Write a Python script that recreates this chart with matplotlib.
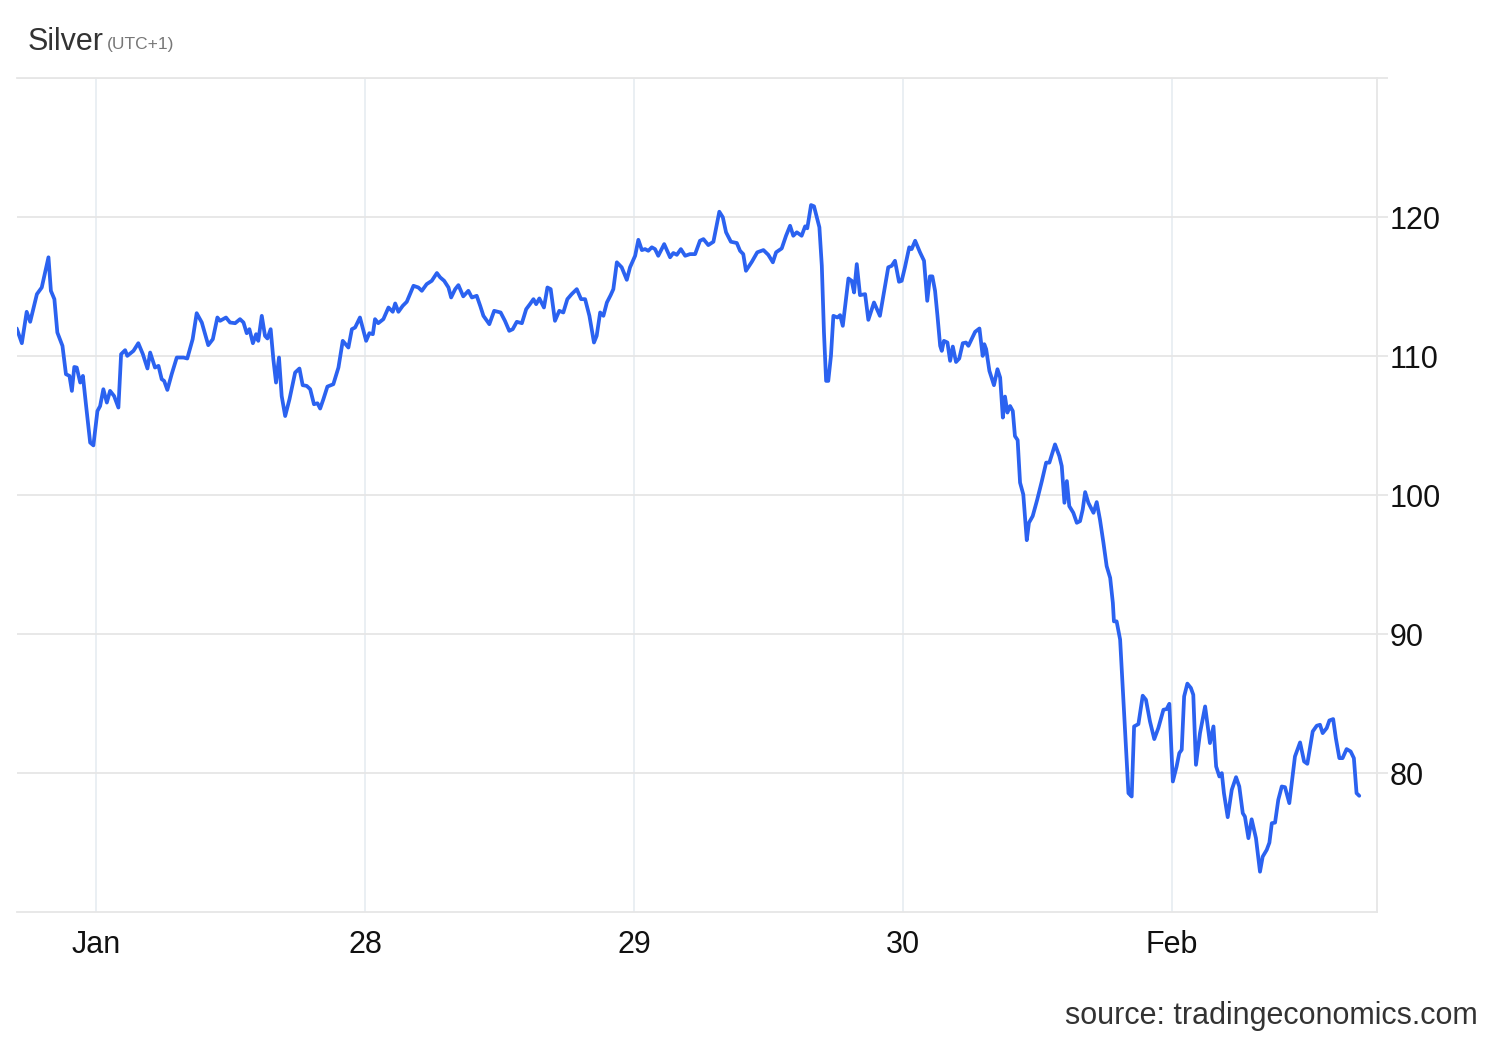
import matplotlib
matplotlib.use('Agg')
import matplotlib.pyplot as plt
import numpy as np

# time in trading days from the "Jan" tick (Jan 27), silver price in USD
days = [
    -0.295, -0.276, -0.258, -0.245, -0.220, -0.202, -0.177, -0.168, -0.155, -0.144,
    -0.125, -0.112, -0.099, -0.090, -0.081, -0.072, -0.059, -0.049, -0.037, -0.022,
    -0.010, 0.005, 0.015, 0.027, 0.040, 0.052, 0.067, 0.083, 0.093, 0.108,
    0.116, 0.139, 0.157, 0.174, 0.191, 0.201, 0.219, 0.232, 0.244, 0.253,
    0.265, 0.281, 0.300, 0.325, 0.339, 0.359, 0.374, 0.393, 0.417, 0.434,
    0.451, 0.461, 0.483, 0.498, 0.517, 0.535, 0.548, 0.560, 0.570, 0.583,
    0.595, 0.603, 0.616, 0.628, 0.637, 0.649, 0.659, 0.669, 0.680, 0.690,
    0.703, 0.719, 0.740, 0.756, 0.768, 0.783, 0.796, 0.810, 0.823, 0.833,
    0.845, 0.860, 0.882, 0.901, 0.917, 0.938, 0.951, 0.963, 0.981, 1.004,
    1.016, 1.029, 1.037, 1.049, 1.068, 1.087, 1.103, 1.112, 1.124, 1.140,
    1.155, 1.180, 1.198, 1.211, 1.229, 1.248, 1.267, 1.279, 1.294, 1.310,
    1.320, 1.335, 1.347, 1.365, 1.384, 1.397, 1.415, 1.428, 1.440, 1.462,
    1.480, 1.504, 1.520, 1.536, 1.549, 1.564, 1.583, 1.599, 1.613, 1.626,
    1.636, 1.648, 1.665, 1.678, 1.690, 1.706, 1.722, 1.737, 1.752, 1.768,
    1.787, 1.803, 1.818, 1.834, 1.851, 1.861, 1.874, 1.886, 1.899, 1.913,
    1.923, 1.936, 1.954, 1.973, 1.985, 2.004, 2.016, 2.029, 2.041, 2.053,
    2.066, 2.078, 2.090, 2.112, 2.134, 2.146, 2.159, 2.174, 2.190, 2.208,
    2.227, 2.245, 2.258, 2.276, 2.295, 2.317, 2.330, 2.342, 2.360, 2.382,
    2.394, 2.406, 2.416, 2.438, 2.458, 2.481, 2.499, 2.516, 2.528, 2.549,
    2.565, 2.580, 2.592, 2.605, 2.623, 2.636, 2.644, 2.658, 2.669, 2.689,
    2.698, 2.706, 2.714, 2.722, 2.732, 2.741, 2.756, 2.766, 2.776, 2.797,
    2.809, 2.818, 2.828, 2.840, 2.859, 2.871, 2.892, 2.914, 2.933, 2.945,
    2.958, 2.970, 2.985, 2.995, 3.007, 3.023, 3.032, 3.045, 3.063, 3.078,
    3.090, 3.100, 3.109, 3.119, 3.128, 3.138, 3.144, 3.152, 3.165, 3.175,
    3.185, 3.197, 3.209, 3.222, 3.234, 3.243, 3.255, 3.268, 3.284, 3.296,
    3.302, 3.309, 3.321, 3.338, 3.351, 3.361, 3.371, 3.379, 3.388, 3.398,
    3.408, 3.416, 3.426, 3.435, 3.447, 3.460, 3.468, 3.482, 3.499, 3.516,
    3.532, 3.544, 3.565, 3.581, 3.590, 3.600, 3.609, 3.618, 3.633, 3.646,
    3.658, 3.668, 3.677, 3.689, 3.708, 3.720, 3.732, 3.745, 3.757, 3.770,
    3.780, 3.784, 3.794, 3.807, 3.819, 3.838, 3.850, 3.859, 3.875, 3.891,
    3.903, 3.918, 3.934, 3.949, 3.968, 3.980, 3.990, 4.003, 4.017, 4.027,
    4.036, 4.045, 4.057, 4.070, 4.079, 4.089, 4.104, 4.123, 4.141, 4.154,
    4.164, 4.176, 4.185, 4.193, 4.207, 4.222, 4.238, 4.250, 4.263, 4.271,
    4.284, 4.296, 4.312, 4.327, 4.337, 4.352, 4.362, 4.371, 4.383, 4.395,
    4.408, 4.420, 4.436, 4.457, 4.476, 4.491, 4.503, 4.523, 4.538, 4.550,
    4.560, 4.575, 4.585, 4.599, 4.609, 4.622, 4.634, 4.649, 4.664, 4.676,
    4.686, 4.696,
]
price = [
    111.98, 110.92, 113.18, 112.46, 114.45, 114.93, 117.10, 114.69, 114.09, 111.69,
    110.73, 108.69, 108.57, 107.49, 109.21, 109.17, 108.09, 108.57, 106.40, 103.77,
    103.57, 106.04, 106.40, 107.61, 106.65, 107.49, 107.12, 106.29, 110.13, 110.42,
    110.01, 110.37, 110.92, 110.13, 109.10, 110.25, 109.17, 109.29, 108.33, 108.21,
    107.56, 108.69, 109.89, 109.89, 109.82, 111.21, 113.08, 112.41, 110.78, 111.21,
    112.77, 112.53, 112.77, 112.41, 112.36, 112.65, 112.41, 111.64, 111.93, 110.92,
    111.57, 111.09, 112.89, 111.45, 111.26, 111.93, 109.77, 108.09, 109.89, 107.12,
    105.68, 106.89, 108.81, 109.10, 107.90, 107.85, 107.61, 106.53, 106.60, 106.22,
    106.89, 107.80, 107.97, 109.17, 111.09, 110.61, 111.93, 112.05, 112.77, 111.09,
    111.64, 111.57, 112.65, 112.36, 112.65, 113.49, 113.18, 113.78, 113.18, 113.61,
    113.90, 115.05, 114.93, 114.69, 115.17, 115.41, 115.97, 115.66, 115.41, 114.93,
    114.21, 114.81, 115.10, 114.29, 114.69, 114.21, 114.33, 113.61, 112.89, 112.29,
    113.25, 113.13, 112.53, 111.81, 111.93, 112.46, 112.36, 113.37, 113.73, 114.09,
    113.73, 114.14, 113.49, 114.93, 114.81, 112.53, 113.25, 113.13, 114.09, 114.45,
    114.81, 114.09, 114.09, 112.89, 110.97, 111.45, 113.13, 112.89, 113.85, 114.38,
    114.81, 116.74, 116.38, 115.48, 116.38, 117.21, 118.36, 117.62, 117.69, 117.57,
    117.82, 117.69, 117.21, 118.05, 117.10, 117.41, 117.28, 117.69, 117.21, 117.33,
    117.33, 118.29, 118.41, 117.98, 118.22, 120.38, 119.98, 118.90, 118.22, 118.13,
    117.57, 117.33, 116.13, 116.78, 117.46, 117.62, 117.28, 116.74, 117.46, 117.74,
    118.65, 119.37, 118.65, 118.90, 118.65, 119.33, 119.19, 120.86, 120.77, 119.26,
    116.49, 111.69, 108.21, 108.21, 110.01, 112.89, 112.77, 112.94, 112.17, 115.58,
    115.41, 114.57, 116.61, 114.38, 114.45, 112.60, 113.85, 112.89, 115.05, 116.38,
    116.49, 116.85, 115.34, 115.41, 116.38, 117.82, 117.69, 118.29, 117.46, 116.85,
    113.97, 115.73, 115.73, 114.69, 112.89, 110.73, 110.37, 111.09, 110.97, 109.65,
    110.68, 109.57, 109.82, 110.92, 110.97, 110.73, 111.21, 111.74, 111.98, 110.01,
    110.85, 110.49, 108.93, 107.90, 109.05, 108.45, 105.57, 107.08, 105.93, 106.40,
    106.04, 104.24, 103.95, 100.89, 100.04, 96.75, 98.00, 98.48, 99.68, 101.00,
    102.33, 102.33, 103.64, 102.80, 102.08, 99.44, 101.00, 99.20, 98.72, 98.00,
    98.12, 98.96, 100.21, 99.44, 98.72, 99.49, 98.24, 96.56, 94.88, 94.04,
    92.24, 90.91, 90.91, 89.60, 85.27, 78.55, 78.31, 83.35, 83.52, 85.56,
    85.27, 83.71, 82.44, 83.23, 84.55, 84.60, 84.98, 79.39, 80.47, 81.43,
    81.67, 85.51, 86.43, 86.12, 85.63, 80.59, 82.87, 84.79, 82.15, 83.35,
    80.47, 79.75, 79.99, 78.55, 76.82, 78.79, 79.70, 79.03, 77.11, 76.86,
    75.31, 76.67, 75.31, 72.90, 73.98, 74.47, 74.99, 76.39, 76.43, 78.07,
    79.03, 78.98, 77.83, 81.19, 82.20, 80.83, 80.66, 82.99, 83.40, 83.47,
    82.87, 83.23, 83.78, 83.88, 82.51, 81.07, 81.07, 81.72, 81.55, 81.07,
    78.55, 78.36,
]

x_ticks = [0, 1, 2, 3, 4]
x_labels = ['Jan', '28', '29', '30', 'Feb']
y_ticks = [80, 90, 100, 110, 120]

plt.rcParams['font.family'] = ['Liberation Sans', 'DejaVu Sans']

fig = plt.figure(figsize=(15, 10.4), dpi=100)
ax = fig.add_axes([17 / 1500, 1 - 912 / 1040, 1360 / 1500, 834 / 1040])

ax.plot(days, price, color='#2b62f0', lw=2.7, solid_joinstyle='round',
        solid_capstyle='round')

ax.set_xlim(-0.294, 4.762)
ax.set_ylim(70, 130)

ax.set_xticks(x_ticks)
ax.set_xticklabels(x_labels)
ax.set_yticks(y_ticks + [130])
ax.set_yticklabels([str(v) for v in y_ticks] + [''])
ax.yaxis.tick_right()

ax.grid(axis='y', color='#e6e6e6', lw=1.3)
ax.grid(axis='x', color='#e8eef2', lw=1.3)
ax.set_axisbelow(True)

ax.tick_params(axis='y', length=8, width=1.3, color='#e6e6e6', pad=1,
               labelsize=22, labelcolor='#111111')
ax.tick_params(axis='x', length=0, pad=13, labelsize=22, labelcolor='#111111')

ax.spines['left'].set_visible(False)
for side in ['top', 'bottom', 'right']:
    ax.spines[side].set_color('#e6e6e6')
    ax.spines[side].set_linewidth(1.3)

fig.text(28 / 1500, 1 - 42 / 1040, 'Silver', fontsize=22, color='#333333',
         va='center', ha='left')
fig.text(107 / 1500, 1 - 44 / 1040, '(UTC+1)', fontsize=12.5, color='#777777',
         va='center', ha='left')
fig.text(1478 / 1500, 1 - 1016 / 1040, 'source: tradingeconomics.com',
         fontsize=22, color='#333333', va='center', ha='right')

fig.savefig('out.png', dpi=100, facecolor='white')
